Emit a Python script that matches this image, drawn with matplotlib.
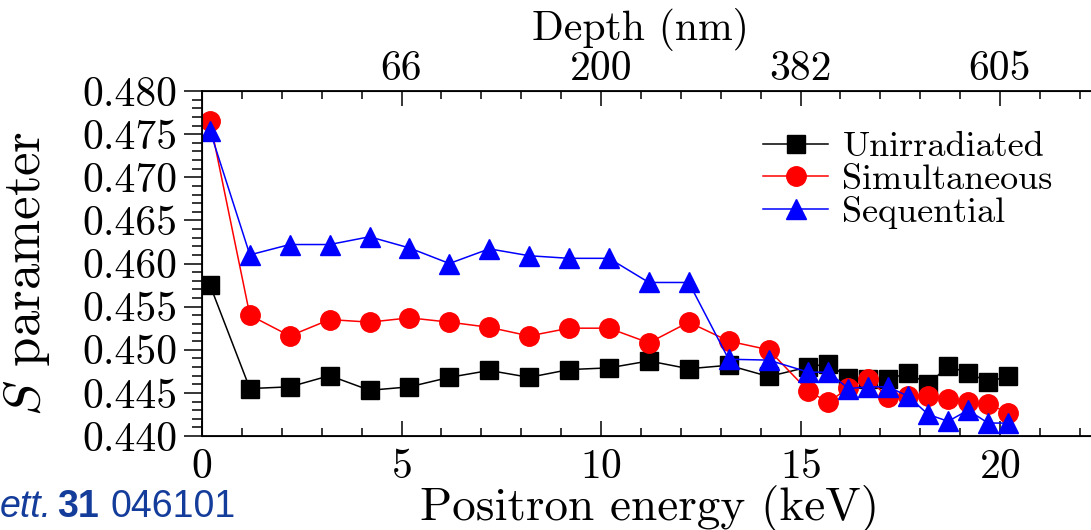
import numpy as np
import matplotlib
matplotlib.use('Agg')
import matplotlib.pyplot as plt
from matplotlib.ticker import MultipleLocator, FixedLocator, FormatStrFormatter

plt.rcParams['font.family'] = 'serif'
plt.rcParams['font.serif'] = ['cmr10']
plt.rcParams['mathtext.fontset'] = 'cm'
plt.rcParams['axes.formatter.use_mathtext'] = True

# Positron energy (keV);
energy = [0.2, 1.2, 2.2, 3.2, 4.2, 5.2, 6.2, 7.2, 8.2, 9.2, 10.2, 11.2, 12.2,
          13.2, 14.2, 15.2, 15.7, 16.2, 16.7, 17.2, 17.7, 18.2, 18.7, 19.2,
          19.7, 20.2]

# S parameter for each sample;
s_unirradiated = [0.4575, 0.4455, 0.4457, 0.4470, 0.4453, 0.4457, 0.4468,
                  0.4476, 0.4468, 0.4477, 0.4479, 0.4487, 0.4478, 0.4482,
                  0.4469, 0.4480, 0.4484, 0.4467, 0.4466, 0.4466, 0.4473,
                  0.4460, 0.4481, 0.4473, 0.4463, 0.4469]
s_simultaneous = [0.4765, 0.4540, 0.4516, 0.4535, 0.4532, 0.4537, 0.4532,
                  0.4526, 0.4516, 0.4525, 0.4525, 0.4508, 0.4532, 0.4510,
                  0.4500, 0.4452, 0.4439, 0.4456, 0.4466, 0.4445, 0.4446,
                  0.4446, 0.4443, 0.4439, 0.4437, 0.4427]
s_sequential = [0.4754, 0.4610, 0.4622, 0.4622, 0.4631, 0.4618, 0.4600,
                0.4617, 0.4609, 0.4606, 0.4606, 0.4578, 0.4578, 0.4489,
                0.4488, 0.4474, 0.4474, 0.4455, 0.4457, 0.4457, 0.4446,
                0.4425, 0.4417, 0.4430, 0.4415, 0.4415]

# Bottom axis major ticks;
energy_ticks = [0, 5, 10, 15, 20]

# Top axis: depth labels at the major energy ticks;
depth_ticks = [5, 10, 15, 20]
depth_labels = ['66', '200', '382', '605']

fig = plt.figure(figsize=(10.91, 5.30), dpi=100)
ax = fig.add_axes([202 / 1091, 94 / 530, 997.5 / 1091, 345 / 530])

ax.plot(energy, s_unirradiated, color='black', lw=1.1, marker='s', ms=13,
        label='Unirradiated')
ax.plot(energy, s_simultaneous, color='#ff0000', lw=1.1, marker='o', ms=14,
        label='Simultaneous')
ax.plot(energy, s_sequential, color='#0000ff', lw=1.1, marker='^', ms=14,
        label='Sequential')

ax.set_xlim(0, 25)
ax.set_ylim(0.440, 0.480)
ax.xaxis.set_major_locator(FixedLocator(energy_ticks))
ax.xaxis.set_minor_locator(MultipleLocator(1))
ax.yaxis.set_major_locator(MultipleLocator(0.005))
ax.yaxis.set_minor_locator(MultipleLocator(0.001))
ax.yaxis.set_major_formatter(FormatStrFormatter('%.3f'))

for sp in ax.spines.values():
    sp.set_linewidth(1.3)
ax.tick_params(axis='x', which='both', direction='in', labelsize=30, pad=9)
ax.tick_params(axis='x', which='major', length=11, width=1.1)
ax.tick_params(axis='x', which='minor', length=6, width=1.1)
ax.tick_params(axis='y', which='both', direction='out', labelsize=30, pad=5)
ax.tick_params(axis='y', which='major', length=13, width=1.1)
ax.tick_params(axis='y', which='minor', length=7, width=1.1)

ax.set_xlabel('Positron energy (keV)', fontsize=34)
ax.xaxis.set_label_coords(0.449, -0.142)
ax.xaxis.label.set_va('top')
ax.set_ylabel(r'$S$ parameter', fontsize=38)
ax.yaxis.set_label_coords(-0.176, 0.47)
ax.yaxis.label.set_va('center')

top = ax.twiny()
top.set_xlim(ax.get_xlim())
top.set_xticks(depth_ticks)
top.set_xticklabels(depth_labels)
top.xaxis.set_minor_locator(MultipleLocator(1))
top.tick_params(axis='x', which='both', direction='in', labelsize=30, pad=2.5)
top.tick_params(axis='x', which='major', length=11, width=1.1)
top.tick_params(axis='x', which='minor', length=6, width=1.1)
top.set_xlabel('Depth (nm)', fontsize=30)
top.xaxis.set_label_coords(0.44, 1.24)
top.xaxis.label.set_va('top')

leg = ax.legend(loc='upper left', bbox_to_anchor=(763 / 1091, 1 - 131 / 530),
                bbox_transform=fig.transFigure, frameon=False, fontsize=26,
                handlelength=1.8, handletextpad=0.4, labelspacing=0.0,
                borderpad=0, borderaxespad=0)

# Citation fragment in the lower left corner;
cite = '#143c9a'
fig.text(0 / 1091, 13 / 530, 'ett.', color=cite, fontsize=27, style='italic',
         family='Liberation Sans', va='baseline')
fig.text(57 / 1091, 13 / 530, '31', color=cite, fontsize=27, weight='bold',
         family='Liberation Sans', va='baseline')
fig.text(110 / 1091, 13 / 530, '046101', color=cite, fontsize=27,
         family='Liberation Sans', va='baseline')

fig.savefig('out.png', dpi=100)
